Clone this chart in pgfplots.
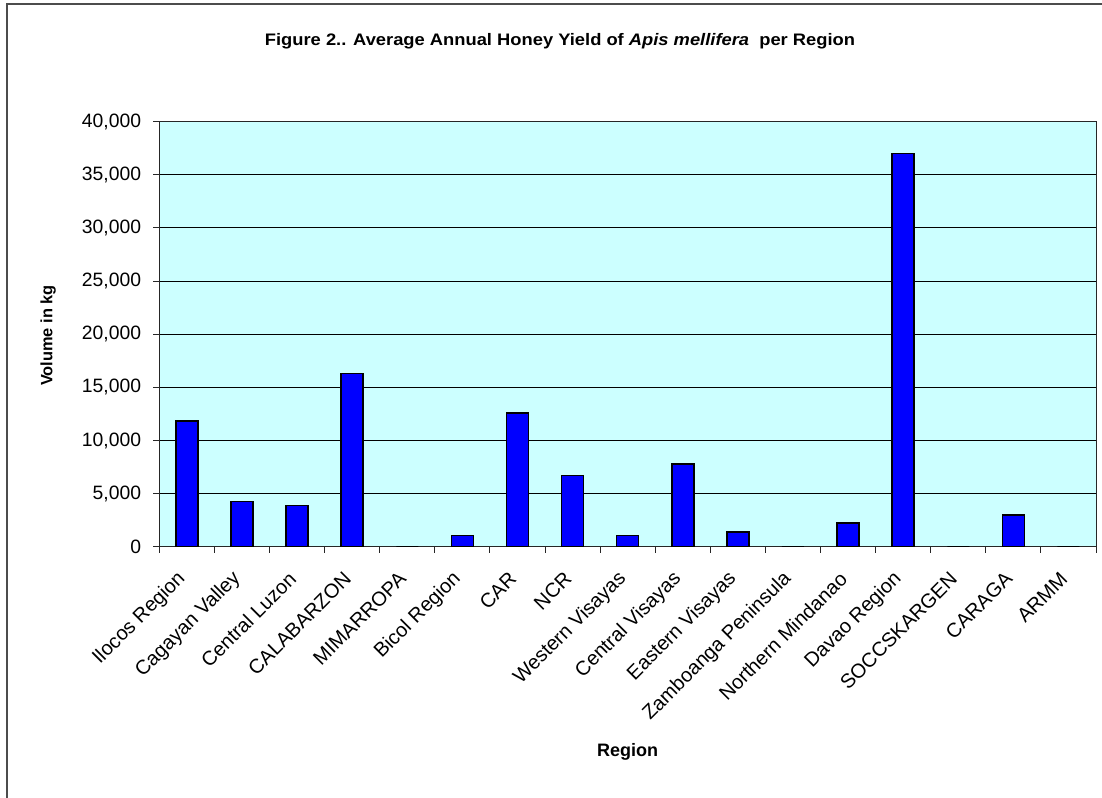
\documentclass[border=0pt]{standalone}
\usepackage{fontspec}
\setmainfont{Liberation Sans}
\usepackage{pgfplots}
\pgfplotsset{compat=1.18}
\definecolor{plotbg}{HTML}{CCFFFF}
\definecolor{barblue}{HTML}{0000FF}
\begin{document}
\begin{tikzpicture}
\useasboundingbox (0,0) rectangle (826.5pt,597.75pt);
\draw[black!70, line width=1.5pt] (5.25pt,-10pt) -- (5.25pt,594.75pt) -- (850pt,594.75pt);
\node[anchor=base, inner sep=0pt] at (420pt,563.5pt) {\scalebox{1.1}[1]{\fontsize{12.5}{15}\selectfont\bfseries Figure 2.. Average Annual Honey Yield of \textit{Apis mellifera}\ \ per Region}};
\begin{axis}[
  at={(119.5pt,187.7pt)}, anchor=south west,
  scale only axis, width=702.5pt, height=318.75pt,
  xmin=-0.5, xmax=16.5, ymin=0, ymax=40000,
  ybar, bar width=16.5pt,
  axis background/.style={fill=plotbg},
  axis line style={black!85, line width=0.75pt},
  xtick={0,...,16},
  xticklabels={Ilocos Region, Cagayan Valley, Central Luzon, CALABARZON, MIMARROPA, Bicol Region, CAR, NCR, Western Visayas, Central Visayas, Eastern Visayas, Zamboanga Peninsula, Northern Mindanao, Davao Region, SOCCSKARGEN, CARAGA, ARMM},
  minor xtick={-0.5,0.5,...,16.5},
  every major x tick/.append style={draw=none},
  ytick={0,5000,...,40000},
  tick pos=left,
  tick align=outside,
  major tick length=4.5pt, minor tick length=4.5pt,
  every tick/.append style={black!85, line width=0.75pt},
  ymajorgrids, major grid style={black, line width=0.75pt},
  scaled y ticks=false,
  /pgf/number format/.cd, fixed, 1000 sep={,}, assume math mode=true,
  /pgfplots/.cd,
  xticklabel style={font=\fontsize{15}{18}\selectfont, inner sep=0pt, anchor=east, xshift=-3.4pt, yshift=-17pt, rotate=45},
  yticklabel style={font=\fontsize{14.5}{17}\selectfont, inner sep=0pt, anchor=east, xshift=-9pt},
  xlabel={Region}, ylabel={Volume in kg},
  xlabel style={font=\fontsize{13.5}{16}\selectfont\bfseries, at={(axis description cs:0.5,-0.483)}, anchor=center},
  ylabel style={font=\fontsize{12.3}{15}\selectfont\bfseries, at={(axis description cs:-0.1188,0.497)}, anchor=center},
]
\addplot[fill=barblue, draw=black, line width=1.1pt] coordinates {
(0,11850) (1,4250) (2,3900) (3,16300) (4,0) (5,1050) (6,12600) (7,6700) (8,1050) (9,7800) (10,1400) (11,0) (12,2250) (13,37000) (14,0) (15,3000) (16,0)
};
\end{axis}
\end{tikzpicture}
\end{document}
